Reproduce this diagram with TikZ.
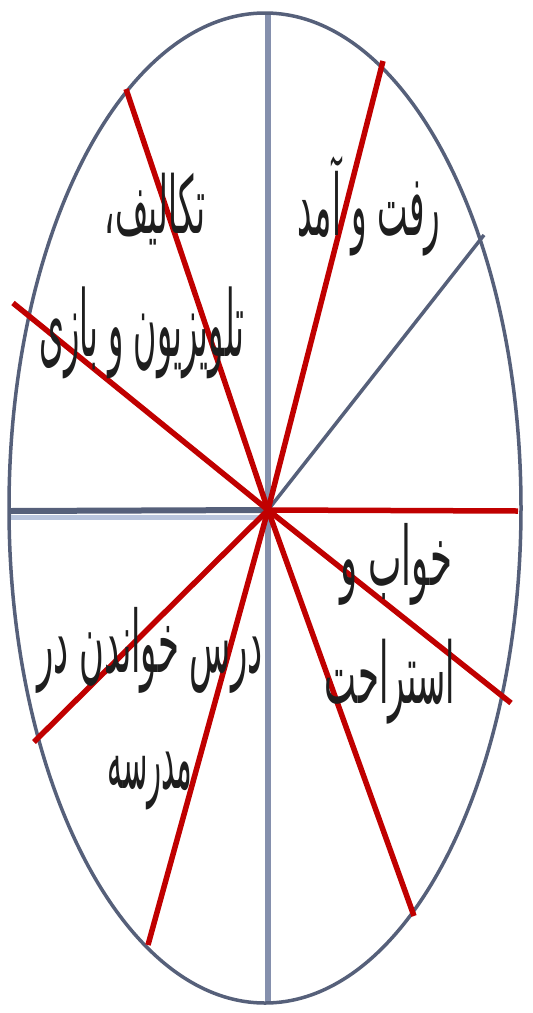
\documentclass[tikz,border=0pt]{standalone}
\usepackage{fontspec}
\usepackage{graphicx}
\newfontfamily\arabicfont[Script=Arabic]{DejaVu Sans}
\TeXXeTstate=1
\definecolor{rim}{HTML}{56607A}
\definecolor{axisc}{HTML}{8590AD}
\definecolor{shade}{HTML}{B9C5DD}
\definecolor{redl}{HTML}{C00000}
\definecolor{ink}{HTML}{1E1E1E}
\newcommand\fatext[3]{\resizebox*{#1}{#2}{\arabicfont #3}}
\begin{document}
\begin{tikzpicture}[x=1pt,y=-1pt,
  rimline/.style={draw=rim,line width=3.5pt},
  axisline/.style={draw=axisc,line width=5.5pt},
  redline/.style={draw=redl,line width=5.5pt},
  lbl/.style={inner sep=0pt,text=ink}]
\useasboundingbox (0,0) rectangle (533,1013);
\coordinate (c) at (268,510);
\coordinate (top) at (268,13);
\coordinate (bot) at (268,1003);
\coordinate (left) at (10,511);
\coordinate (diag) at (484,235);
% axes
\draw[axisline] (top) -- (bot);
\draw[draw=shade,line width=5pt] (10,517) -- (268,517);
\draw[draw=rim,line width=6pt] (left) -- (c);
\draw[rimline] (c) -- (diag);
% rim
\draw[rimline] (265,508) ellipse [x radius=256, y radius=495];
% red lines
\coordinate (r1a) at (126,89);
\coordinate (r1b) at (414,916);
\coordinate (r2a) at (383,61);
\coordinate (r2b) at (148,945);
\coordinate (r3a) at (13,303);
\coordinate (r3b) at (511,703);
\coordinate (r4) at (518,511);
\coordinate (r5) at (34,742);
\draw[redline] (r1a) -- (c) -- (r1b);
\draw[redline] (r2a) -- (c) -- (r2b);
\draw[redline] (r3a) -- (c) -- (r3b);
\draw[redline] (c) -- (r4);
\draw[redline] (c) -- (r5);
% labels
\node[lbl] (t1) at (155,209) {\fatext{100pt}{72pt}{\beginR تکالیف،\endR}};
\node[lbl] (t2) at (142,333) {\fatext{205pt}{92pt}{\beginR تلویزیون و بازی\endR}};
\node[lbl] (t3) at (369,206) {\fatext{142pt}{100pt}{\beginR رفت و آمد\endR}};
\node[lbl] (t4) at (396,564) {\fatext{112pt}{82pt}{\beginR خواب و\endR}};
\node[lbl] (t5) at (390,682) {\fatext{130pt}{85pt}{\beginR استراحت\endR}};
\node[lbl] (t6) at (150,650) {\fatext{225pt}{86pt}{\beginR درس خواندن در\endR}};
\node[lbl] (t7) at (150,781) {\fatext{85pt}{58pt}{\beginR مدرسه\endR}};
\end{tikzpicture}
\end{document}
